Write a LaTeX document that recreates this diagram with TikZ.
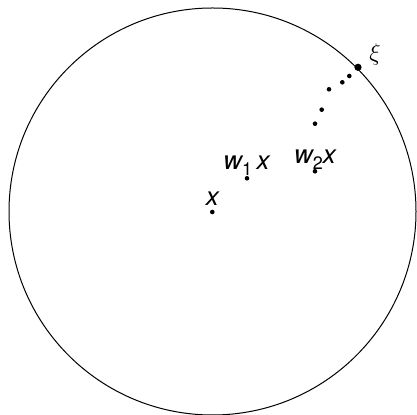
\documentclass[tikz,border=0pt]{standalone}
\usepackage{fontspec}
\setsansfont{TeX Gyre Heros}
\usepackage{tikz}
\usetikzlibrary{positioning}

\tikzset{
  lbl/.style={font=\sffamily\itshape\fontsize{13}{15}\selectfont,inner sep=0pt,anchor=base},
  dot/.style={fill=black},
}

\begin{document}
\begin{tikzpicture}[x=.5pt,y=-.5pt]
\useasboundingbox (0,0) rectangle (417,415);
\draw[line width=.5pt] (212.5,211.5) circle[radius=203.5];
% points of the ray
\coordinate (x) at (212.3,212);
\coordinate (w1) at (247,178.3);
\coordinate (w2) at (315,171.3);
\coordinate (p3) at (315,123.7);
\coordinate (p4) at (321.7,109.7);
\coordinate (p5) at (329,89.3);
\coordinate (p6) at (342.3,82.3);
\coordinate (p7) at (349.3,76);
\coordinate (xi) at (358,67.3);
\foreach \p in {x,w1,w2,p3,p4,p5,p6,p7} \fill[dot] (\p) circle[radius=1.15pt];
\fill[dot] (xi) circle[radius=1.8pt];
% labels
\node[lbl] (lx) at (212.3,206) {x};
\node[lbl] (lw1) at (246.5,169.3) {w\raisebox{-.45ex}{\upshape\fontsize{9}{10}\selectfont 1}\,x};
\node[lbl] (lw2) at (315,163.3) {w\raisebox{-.45ex}{\upshape\fontsize{9}{10}\selectfont 2}x};
\node[font=\fontsize{13}{15}\selectfont,inner sep=0pt] (lxi) at (375,54.5) {$\xi$};
\end{tikzpicture}
\end{document}
